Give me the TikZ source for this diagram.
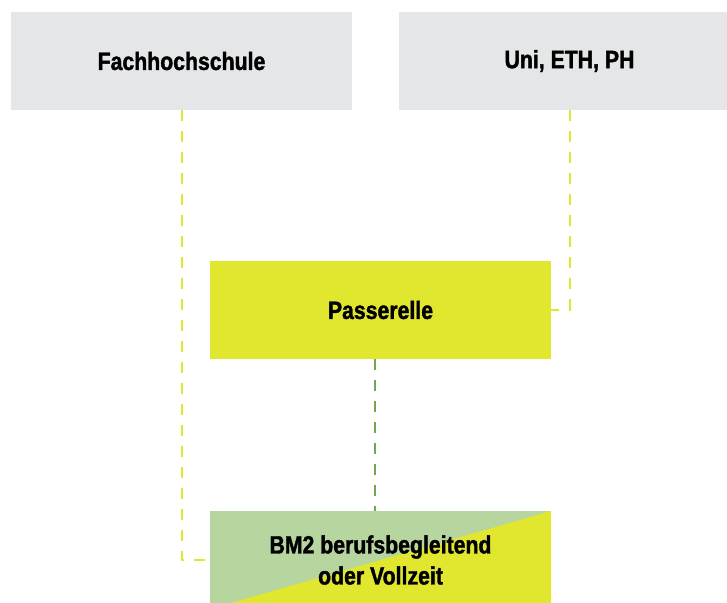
\documentclass[tikz,border=0pt]{standalone}
\usepackage{fontspec}
\newfontfamily\boxfont{Liberation Sans}[FakeStretch=0.85, BoldFeatures={FakeBold=1.5}]
\usepackage{tikz}
\usetikzlibrary{positioning}
\definecolor{schoolgrey}{HTML}{E5E6E8}
\definecolor{limeboxes}{HTML}{E1E72F}
\definecolor{sage}{HTML}{B7D59E}
\definecolor{leaf}{HTML}{70A84C}
\tikzset{
school/.style={shape=rectangle, minimum width=170.5pt, minimum height=49pt, inner sep=0, align=center, font=\boxfont\bfseries\fontsize{12.5}{15.5}\selectfont}, upper/.style={school, fill=schoolgrey}, bridge/.style={school, fill=limeboxes}, route/.style={draw=limeboxes, line width=1pt, dash pattern=on 5.5pt off 5pt}}

\begin{document}
\begin{tikzpicture}[x=0.5pt, y=-0.5pt]
\useasboundingbox (0,0) rectangle (727,602);
\clip (0,0) rectangle (727,602);
\node [upper] at (181.5, 61) (fh) {Fachhochschule};
\node [upper] at (569.5, 61) (uni) {Uni, ETH, PH};
\node [bridge] at (380.5, 310) (pass) {Passerelle};
\node [school, fill=sage, path picture={
      \fill [limeboxes] (path picture bounding box.north east) -- (path picture bounding box.south east) -- (path picture bounding box.south west) -- cycle;}] at (380.5, 560) (bm) {BM2 berufsbegleitend\\oder Vollzeit};
\draw [route] (fh.south) |- (bm.west);
\draw [route] (uni.south) |- (pass.east);
\draw [route, draw=leaf] ([xshift=-2.75pt]pass.south) -- ([xshift=-2.75pt]bm.north);
\end{tikzpicture}
\end{document}
